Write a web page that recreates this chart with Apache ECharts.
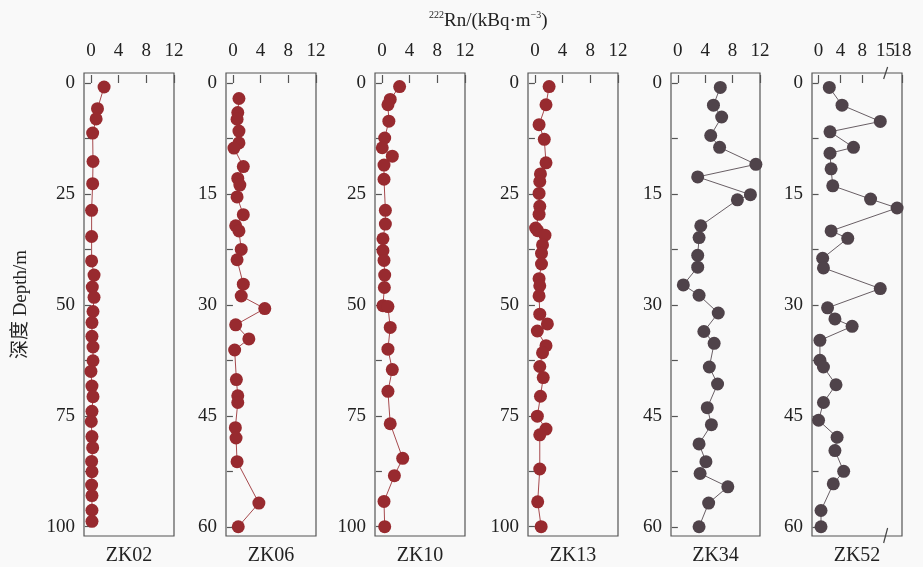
<html>
<head>
<meta charset="utf-8">
<title>222Rn depth profiles</title>
<script src="https://cdn.jsdelivr.net/npm/echarts@6.0.0/dist/echarts.min.js"></script>
<style>
  html, body { margin: 0; padding: 0; background: #f9f9f9; }
</style>
</head>
<body>
<div id="main" style="width: 923px;height:567px;"></div>
<script type="text/javascript">
// well names
var wells = ['ZK02', 'ZK06', 'ZK10', 'ZK13', 'ZK34', 'ZK52'];

// depth (m) and 222Rn (kBq/m3)
var zk02Depth = [0.9, 5.8, 8.1, 11.3, 17.7, 22.7, 28.7, 34.6, 40.1, 43.3, 46, 48.3, 51.5, 54, 57.1, 59.5, 62.6, 65, 68.3, 70.7, 74, 76.3, 79.7, 82.2, 85.3, 87.6, 90.6, 93, 96.3, 98.8];
var zk02Rn = [1.9, 0.95, 0.75, 0.25, 0.3, 0.25, 0.1, 0.1, 0.1, 0.45, 0.2, 0.45, 0.3, 0.15, 0.15, 0.3, 0.3, 0, 0.15, 0.3, 0.15, 0.05, 0.15, 0.25, 0.1, 0.15, 0.1, 0.15, 0.15, 0.15];

var zk06Depth = [2.1, 4.0, 4.9, 6.5, 8.1, 8.8, 11.3, 12.9, 13.8, 15.4, 17.8, 19.3, 20.0, 22.5, 23.9, 27.2, 28.8, 30.5, 32.7, 34.6, 36.1, 40.1, 42.3, 43.2, 46.6, 48.0, 51.2, 56.8, 60.0];
var zk06Rn = [0.87, 0.7, 0.6, 0.87, 0.87, 0.15, 1.5, 0.7, 1.0, 0.6, 1.5, 0.4, 0.87, 1.2, 0.6, 1.5, 1.2, 4.6, 0.4, 2.3, 0.25, 0.5, 0.7, 0.7, 0.35, 0.45, 0.6, 3.75, 0.77];

var zk10Depth = [0.8, 3.7, 4.9, 8.6, 12.4, 14.6, 16.5, 18.5, 21.7, 28.7, 31.8, 35.1, 37.8, 40, 43.3, 46.1, 50.2, 50.4, 55.1, 60, 64.6, 69.5, 76.8, 84.6, 88.5, 94.3, 100];
var zk10Rn = [2.55, 1.2, 0.87, 1.0, 0.4, 0.05, 1.5, 0.3, 0.3, 0.5, 0.5, 0.15, 0.15, 0.3, 0.4, 0.35, 0.15, 0.87, 1.2, 0.87, 1.5, 0.87, 1.2, 3.0, 1.8, 0.3, 0.4];

var zk13Depth = [0.8, 4.9, 9.4, 12.7, 18.0, 20.5, 22.2, 24.9, 27.8, 29.6, 32.7, 33.3, 34.3, 36.5, 38.4, 40.8, 44.1, 45.7, 48, 52.1, 54.3, 55.9, 59.2, 60.8, 63.9, 66.4, 70.6, 75.1, 78, 79.3, 87.0, 94.4, 100];
var zk13Rn = [2.05, 1.6, 0.6, 1.35, 1.6, 0.8, 0.7, 0.6, 0.7, 0.6, 0.1, 0.4, 1.45, 1.1, 0.95, 0.95, 0.6, 0.7, 0.6, 0.7, 1.8, 0.35, 1.6, 1.1, 0.7, 1.2, 0.8, 0.35, 1.6, 0.7, 0.7, 0.4, 0.9];

var zk34Depth = [0.6, 3.0, 4.6, 7.1, 8.7, 11.0, 12.7, 15.1, 15.8, 19.3, 20.9, 23.3, 24.9, 27.3, 28.7, 31.1, 33.6, 35.2, 38.4, 40.7, 43.9, 46.2, 48.8, 51.2, 52.8, 54.6, 56.8, 60];
var zk34Rn = [6.2, 5.2, 6.4, 4.8, 6.1, 11.4, 2.9, 10.6, 8.7, 3.35, 3.1, 2.9, 2.9, 0.8, 3.1, 5.9, 3.8, 5.3, 4.6, 5.8, 4.3, 4.9, 3.1, 4.1, 3.25, 7.3, 4.5, 3.1];

var zk52Depth = [0.6, 3.0, 5.2, 6.6, 8.7, 9.5, 11.6, 13.9, 15.7, 16.9, 20.0, 21.0, 23.7, 25.0, 27.8, 30.4, 31.9, 32.9, 34.8, 37.5, 38.4, 40.8, 43.2, 45.6, 47.9, 49.7, 52.5, 54.2, 57.8, 60];
var zk52Rn = [1.97, 4.3, 13.4, 2.1, 6.4, 2.1, 2.3, 2.6, 10.5, 17.1, 2.3, 5.35, 0.75, 0.9, 13.4, 1.65, 3.0, 6.15, 0.25, 0.25, 0.9, 3.2, 0.9, 0, 3.4, 3.0, 4.6, 2.7, 0.45, 0.45];

var depths = [zk02Depth, zk06Depth, zk10Depth, zk13Depth, zk34Depth, zk52Depth];
var rns = [zk02Rn, zk06Rn, zk10Rn, zk13Rn, zk34Rn, zk52Rn];
var maxDepth = [100, 60, 100, 100, 60, 60];

// tick labels
var rnTicks = [0, 4, 8, 12];
var rnTicks52 = [0, 4, 8, 15, 18];
var depthTicks100 = [0, 25, 50, 75, 100];
var depthTicks60 = [0, 15, 30, 45, 60];

var redColor = '#982a2f';
var grayColor = '#4f434a';
var fontSerif = '"Liberation Serif", "Noto Sans CJK SC", serif';

var gridLeft = [84, 226, 375, 528, 671, 812];
var gridWidth = [90, 90, 90, 90, 89, 90];
var gridTop = 73, gridHeight = 463;

var myChart = echarts.init(document.getElementById('main'));

var grids = [], xAxes = [], yAxes = [], series = [], labels = [];
for (var i = 0; i < wells.length; i++) {
    grids.push({
        left: gridLeft[i], top: gridTop, width: gridWidth[i], height: gridHeight,
        show: true, borderColor: '#555', borderWidth: 1.2, backgroundColor: 'transparent'
    });

    var is52 = wells[i] === 'ZK52';
    var xt = is52 ? rnTicks52.slice(0, 4) : rnTicks;  // ZK52's "18" is added below, it touches "15"
    var xa = {
        type: 'value', gridIndex: i, position: 'top',
        min: is52 ? -1.2 : -1, max: is52 ? 18 : 12,
        axisLine: { show: false },
        splitLine: { show: false },
        axisTick: { show: true, length: 8, inside: false, lineStyle: { color: '#555', width: 1.2 },
            customValues: is52 ? [0, 4, 8, 18] : xt },
        axisLabel: { customValues: xt, margin: 12, color: '#222', fontSize: 19, fontFamily: fontSerif,
            showMaxLabel: true, showMinLabel: true, hideOverlap: false }
    };
    if (is52) {
        xa.breaks = [{ start: 8, end: 15, gap: '26%' }];
        xa.breakArea = { show: false, expandOnClick: false };
    }
    xAxes.push(xa);

    var md = maxDepth[i];
    var dt = md === 100 ? depthTicks100 : depthTicks60;
    var minor = [];
    for (var k = 0; k < dt.length; k++) {
        minor.push(dt[k]);
        if (k < dt.length - 1) minor.push((dt[k] + dt[k + 1]) / 2);
    }
    var ya = {
        type: 'value', gridIndex: i, inverse: true,
        min: md === 100 ? -2.25 : -1.35, max: md === 100 ? 102.1 : 61.25,
        axisLine: { show: false },
        splitLine: { show: false },
        axisTick: { show: true, length: 6, lineStyle: { color: '#555', width: 1.2 }, customValues: minor },
        axisLabel: { customValues: dt, margin: 9, color: '#222', fontSize: 19, fontFamily: fontSerif }
    };
    if (i === 0) {
        ya.name = '深度 Depth/m';
        ya.nameLocation = 'middle';
        ya.nameGap = 53;
        ya.nameTextStyle = { color: '#222', fontSize: 19, fontFamily: fontSerif };
    }
    yAxes.push(ya);

    var c = i < 4 ? redColor : grayColor;
    var pts = [];
    for (var j = 0; j < depths[i].length; j++) pts.push([rns[i][j], depths[i][j]]);
    series.push({
        name: wells[i], type: 'line', xAxisIndex: i, yAxisIndex: i,
        data: pts, symbol: 'circle', symbolSize: 13,
        itemStyle: { color: c },
        lineStyle: { color: c, width: 1, opacity: 0.85 },
        animation: false
    });

    labels.push({
        type: 'text', x: gridLeft[i] + gridWidth[i] / 2, y: 556,
        style: { text: wells[i], align: 'center', verticalAlign: 'middle',
            fontSize: 20, fontFamily: fontSerif, fill: '#222' }
    });
}

myChart.setOption({
    backgroundColor: '#f9f9f9',
    animation: false,
    title: {
        text: '{s|222}{t|Rn/(kBq·m}{s|−3}{t|)}',
        left: 424, top: 5,
        textStyle: {
            fontWeight: 'normal',
            rich: {
                t: { fontSize: 19, fontWeight: 'normal', fontFamily: fontSerif, color: '#222', lineHeight: 22 },
                s: { fontSize: 10, fontWeight: 'normal', fontFamily: fontSerif, color: '#222', lineHeight: 12, verticalAlign: 'top' }
            }
        }
    },
    grid: grids,
    xAxis: xAxes,
    yAxis: yAxes,
    series: series,
    graphic: labels
});

// break marks and last tick label on the ZK52 Rn axis
var bx = myChart.convertToPixel({ xAxisIndex: 5 }, 15);
var x18 = myChart.convertToPixel({ xAxisIndex: 5 }, rnTicks52[4]);
labels.push({ type: 'line', shape: { x1: bx - 2, y1: gridTop + 6, x2: bx + 2, y2: gridTop - 6 },
    style: { stroke: '#444', lineWidth: 1.2 } });
labels.push({ type: 'line', shape: { x1: bx - 2, y1: gridTop + gridHeight + 7, x2: bx + 2, y2: gridTop + gridHeight - 8 },
    style: { stroke: '#444', lineWidth: 1.2 } });
labels.push({ type: 'text', x: x18, y: gridTop - 12,
    style: { text: String(rnTicks52[4]), align: 'center', verticalAlign: 'bottom',
        fontSize: 19, fontFamily: fontSerif, fill: '#222' } });
myChart.setOption({ graphic: labels });
</script>
</body>
</html>
